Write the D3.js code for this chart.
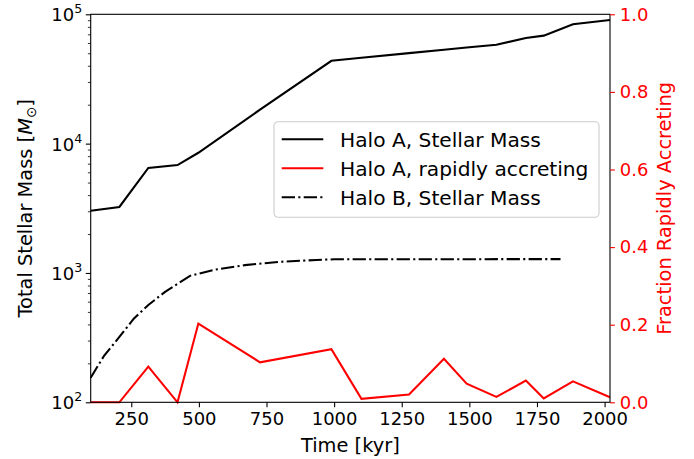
<!DOCTYPE html>
<html>
<head>
<meta charset="utf-8">
<script src="https://cdn.jsdelivr.net/npm/d3@7"></script>
<style>
  body { margin: 0; background: #fff; }
  text { font-family: "DejaVu Sans", sans-serif; }
</style>
</head>
<body>
<div id="my_dataviz"></div>
<script>
// Halo A snapshots (kyr), stellar mass and rapidly accreting fraction
var timeA = [100, 206, 313, 421, 498, 726, 990, 1101, 1277, 1406, 1490, 1600, 1709, 1775, 1883, 2020];
var massA = [3030, 3240, 6480, 6830, 8500, 18300, 43700, 46100, 50100, 53200, 55300, 58200, 65600, 68400, 83700, 90400];
var fracA = [0, 0, 0.092, 0, 0.203, 0.103, 0.137, 0.009, 0.02, 0.112, 0.048, 0.014, 0.056, 0.010, 0.054, 0.013];

// Halo B stellar mass
var timeB = [100, 150, 206, 260, 313, 375, 467, 560, 670, 800, 935, 1000, 1837];
var massB = [155, 230, 320, 445, 565, 715, 950, 1060, 1150, 1220, 1260, 1275, 1280];

var xTicks = [250, 500, 750, 1000, 1250, 1500, 1750, 2000];
var yTicks = [100, 1000, 10000, 100000];
var y2Ticks = [0, 0.2, 0.4, 0.6, 0.8, 1.0];

var legendLabels = ["Halo A, Stellar Mass", "Halo A, rapidly accreting", "Halo B, Stellar Mass"];

// set the dimensions of the graph (note: "top" is a reserved window global)
var W = 694, H = 459;
var plotLeft = 90.7, plotRight = 610, plotTop = 14.3, plotBottom = 402.3;
var lw = 2.08;

var svg = d3.select("#my_dataviz")
  .append("svg")
  .attr("width", W)
  .attr("height", H);

var x = d3.scaleLinear().domain([100, 2020]).range([plotLeft, plotRight]);
var y = d3.scaleLog().domain([100, 100000]).range([plotBottom, plotTop]);
var y2 = d3.scaleLinear().domain([0, 1]).range([plotBottom, plotTop]);

var dataA = timeA.map(function (t, i) { return { t: t, m: massA[i], f: fracA[i] }; });
var dataB = timeB.map(function (t, i) { return { t: t, m: massB[i] }; });

// lines
svg.append("path")
  .datum(dataA)
  .attr("fill", "none")
  .attr("stroke", "#000")
  .attr("stroke-width", lw)
  .attr("d", d3.line().x(function (d) { return x(d.t); }).y(function (d) { return y(d.m); }));

svg.append("path")
  .datum(dataB)
  .attr("fill", "none")
  .attr("stroke", "#000")
  .attr("stroke-width", lw)
  .attr("stroke-dasharray", "13.3,3.3,2.1,3.3")
  .attr("d", d3.line().x(function (d) { return x(d.t); }).y(function (d) { return y(d.m); }));

svg.append("path")
  .datum(dataA)
  .attr("fill", "none")
  .attr("stroke", "#ff0000")
  .attr("stroke-width", lw)
  .attr("d", d3.line().x(function (d) { return x(d.t); }).y(function (d) { return y2(d.f); }));

// frame
svg.append("rect")
  .attr("x", plotLeft).attr("y", plotTop)
  .attr("width", plotRight - plotLeft).attr("height", plotBottom - plotTop)
  .attr("fill", "none")
  .attr("stroke", "#000")
  .attr("stroke-width", 1.1);

// bottom axis
var xAxis = svg.append("g")
  .attr("transform", "translate(0," + plotBottom + ")")
  .call(d3.axisBottom(x).tickValues(xTicks).tickSize(4.9).tickPadding(4.9)
    .tickFormat(d3.format("d")));
xAxis.select(".domain").remove();
xAxis.selectAll("line").attr("stroke-width", 1.1);
xAxis.selectAll("text").attr("font-size", "18px").attr("fill", "#000")
  .attr("font-family", "DejaVu Sans");

// left axis, log with minor ticks
var minor = [];
[100, 1000, 10000].forEach(function (d) {
  for (var k = 2; k < 10; k++) minor.push(d * k);
});
var yMinor = svg.append("g")
  .attr("transform", "translate(" + plotLeft + ",0)")
  .call(d3.axisLeft(y).tickValues(minor).tickSize(2.8).tickFormat(""));
yMinor.select(".domain").remove();
yMinor.selectAll("line").attr("stroke-width", 0.8);

var yAxis = svg.append("g")
  .attr("transform", "translate(" + plotLeft + ",0)")
  .call(d3.axisLeft(y).tickValues(yTicks).tickSize(4.9).tickFormat(""));
yAxis.select(".domain").remove();
yAxis.selectAll("line").attr("stroke-width", 1.1);

yAxis.selectAll(".tick").each(function (d) {
  var t = d3.select(this).append("text")
    .attr("x", -8.5)
    .attr("y", 6.5)
    .attr("text-anchor", "end")
    .attr("fill", "#000")
    .attr("font-size", "18px");
  t.append("tspan").text("10");
  t.append("tspan")
    .attr("font-size", "12.6px")
    .attr("dy", -8)
    .text(Math.round(Math.log10(d)));
});

// right axis, red
var y2Axis = svg.append("g")
  .attr("transform", "translate(" + plotRight + ",0)")
  .call(d3.axisRight(y2).tickValues(y2Ticks).tickSize(4.9).tickPadding(4.9)
    .tickFormat(d3.format(".1f")));
y2Axis.select(".domain").remove();
y2Axis.selectAll("line").attr("stroke", "#ff0000").attr("stroke-width", 1.1);
y2Axis.selectAll("text").attr("fill", "#ff0000").attr("font-size", "18px")
  .attr("font-family", "DejaVu Sans");

// axis labels
svg.append("text")
  .attr("x", (plotLeft + plotRight) / 2)
  .attr("y", 452)
  .attr("text-anchor", "middle")
  .attr("font-size", "19.4px")
  .text("Time [kyr]");

var yl = svg.append("text")
  .attr("transform", "translate(32," + ((plotTop + plotBottom) / 2) + ") rotate(-90)")
  .attr("text-anchor", "middle")
  .attr("font-size", "19.4px");
yl.append("tspan").text("Total Stellar Mass [");
yl.append("tspan").attr("font-style", "italic").text("M");
yl.append("tspan").attr("font-size", "13.6px").attr("dy", 4).text("\u2299");
yl.append("tspan").attr("dy", -4).text("]");

svg.append("text")
  .attr("transform", "translate(671," + ((plotTop + plotBottom) / 2) + ") rotate(-90)")
  .attr("text-anchor", "middle")
  .attr("font-size", "19.4px")
  .attr("fill", "#ff0000")
  .text("Fraction Rapidly Accreting");

// legend
var lg = svg.append("g").attr("transform", "translate(274,121.7)");
lg.append("rect")
  .attr("width", 325).attr("height", 95.6)
  .attr("rx", 4).attr("ry", 4)
  .attr("fill", "#fff").attr("fill-opacity", 0.8)
  .attr("stroke", "#cccccc").attr("stroke-width", 1.1);

var legendStyle = [
  { color: "#000", dash: null },
  { color: "#ff0000", dash: null },
  { color: "#000", dash: "13.3,3.3,2.1,3.3" }
];

legendLabels.forEach(function (label, i) {
  var cy = 17.6 + i * 29;
  lg.append("line")
    .attr("x1", 7.7).attr("x2", 49.3)
    .attr("y1", cy).attr("y2", cy)
    .attr("stroke", legendStyle[i].color)
    .attr("stroke-width", lw)
    .attr("stroke-dasharray", legendStyle[i].dash);
  lg.append("text")
    .attr("x", 66)
    .attr("y", cy + 7.3)
    .attr("font-size", "20.2px")
    .attr("fill", "#000")
    .text(label);
});
</script>
</body>
</html>
